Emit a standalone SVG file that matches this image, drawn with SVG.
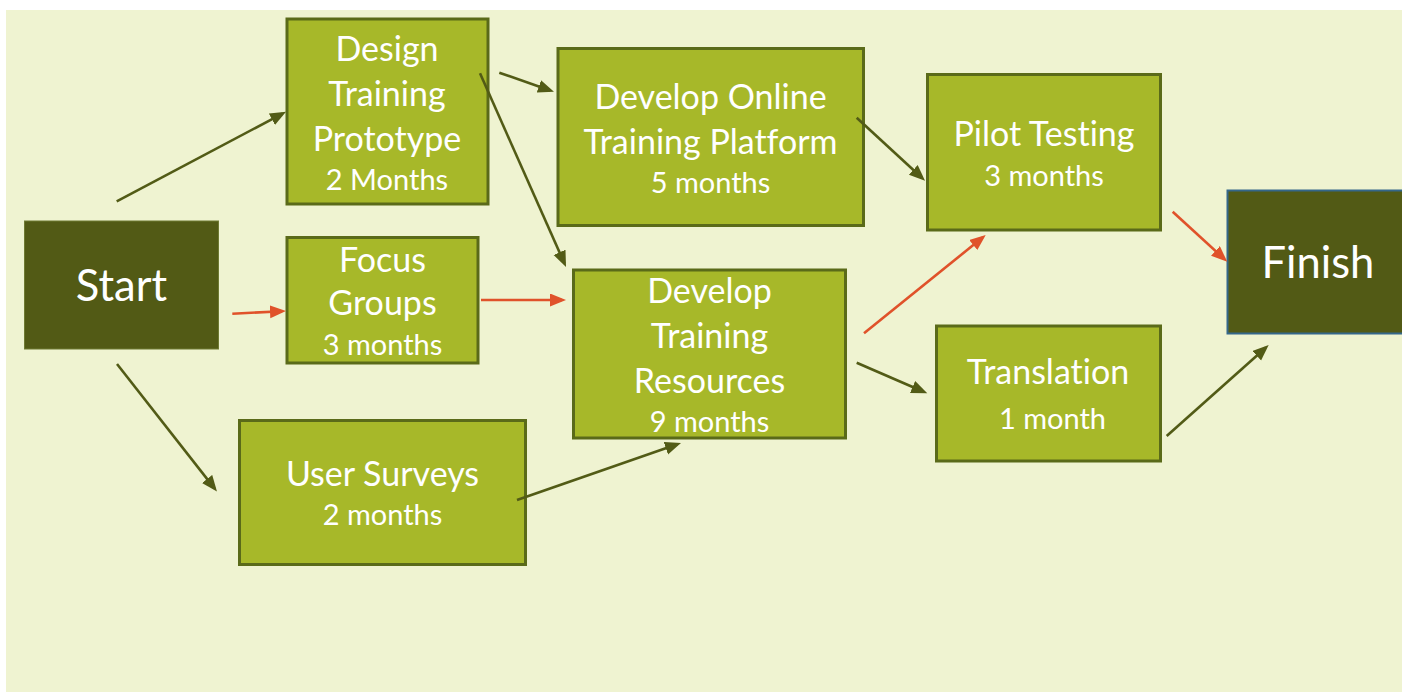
<svg xmlns="http://www.w3.org/2000/svg" width="1402" height="692" viewBox="0 0 1402 692">
<defs>
<style>
.bg{fill:#EFF3D1}
.node{fill:#A7B829;stroke:#5A6A19;stroke-width:3}
.dark{fill:#525A15}
.t{font-family:Lato,"Open Sans","Liberation Sans",sans-serif;fill:#FFFFFF;text-anchor:middle;font-variant-ligatures:none;font-feature-settings:"liga" 0,"clig" 0}
.m{font-size:34px}
.s{font-size:29px}
.b{font-size:43.5px}
.c{fill:none;stroke-width:2.6}
.g{stroke:#525B16}
.r{stroke:#E0522A}
</style>
<marker id="ag" markerUnits="userSpaceOnUse" markerWidth="18" markerHeight="15" refX="12" refY="6.5" orient="auto">
<path d="M0,0 L16,6.5 L0,13 z" fill="#525B16"/>
</marker>
<marker id="ar" markerUnits="userSpaceOnUse" markerWidth="18" markerHeight="15" refX="12" refY="6.5" orient="auto">
<path d="M0,0 L16,6.5 L0,13 z" fill="#E0522A"/>
</marker>
</defs>
<rect x="0" y="0" width="1402" height="692" fill="#FFFFFF"/>
<rect class="bg" x="6" y="10" width="1396" height="682"/>

<g id="start">
<rect class="dark" x="24.5" y="221" width="194" height="128" stroke="#6E7A33" stroke-width="1"/>
<text class="t b" x="121.5" y="301">Start</text>
</g>
<g id="design">
<rect class="node" x="287" y="19" width="201" height="185"/>
<text class="t m" x="387" y="60.5">Design</text>
<text class="t m" x="387" y="106">Training</text>
<text class="t m" x="387" y="150.5">Prototype</text>
<text class="t s" x="387" y="190">2 Months</text>
</g>
<g id="focus">
<rect class="node" x="287" y="237.5" width="191" height="125.5"/>
<text class="t m" x="382.5" y="271.5">Focus</text>
<text class="t m" x="382.5" y="315">Groups</text>
<text class="t s" x="382.5" y="355">3 months</text>
</g>
<g id="surveys">
<rect class="node" x="239.5" y="420.5" width="286" height="144"/>
<text class="t m" x="382.5" y="485.5">User Surveys</text>
<text class="t s" x="382.5" y="525">2 months</text>
</g>
<g id="online">
<rect class="node" x="558" y="48.5" width="305.5" height="177"/>
<text class="t m" x="710.5" y="108.5">Develop Online</text>
<text class="t m" x="710.5" y="153.5">Training Platform</text>
<text class="t s" x="710.5" y="192.5">5 months</text>
</g>
<g id="resources">
<rect class="node" x="573.5" y="270" width="272" height="168"/>
<text class="t m" x="709.5" y="302.5">Develop</text>
<text class="t m" x="709.5" y="347.5">Training</text>
<text class="t m" x="709.5" y="392.5">Resources</text>
<text class="t s" x="709.5" y="431.5">9 months</text>
</g>
<g id="pilot">
<rect class="node" x="927.5" y="74.5" width="233" height="155.5"/>
<text class="t m" x="1044" y="146">Pilot Testing</text>
<text class="t s" x="1044" y="186">3 months</text>
</g>
<g id="translation">
<rect class="node" x="936.5" y="326" width="224" height="135"/>
<text class="t m" x="1048" y="383.5">Translation</text>
<text class="t s" x="1052.5" y="428.5">1 month</text>
</g>
<g id="finish">
<rect class="dark" x="1227.5" y="190.5" width="180" height="143" stroke="#34678A" stroke-width="2"/>
<text class="t b" x="1318" y="277.5">Finish</text>
</g>

<g id="connectors">
<line class="c g" x1="116.7" y1="201.3" x2="282.5" y2="113.6" marker-end="url(#ag)"/>
<line class="c r" x1="232.3" y1="313.7" x2="282" y2="311.2" marker-end="url(#ar)"/>
<line class="c g" x1="117" y1="364" x2="214.5" y2="488.4" marker-end="url(#ag)"/>
<line class="c g" x1="499.3" y1="72.7" x2="550.2" y2="90.4" marker-end="url(#ag)"/>
<line class="c g" x1="480" y1="73.3" x2="564.4" y2="263.3" marker-end="url(#ag)"/>
<line class="c r" x1="481" y1="300" x2="562" y2="300" marker-end="url(#ar)"/>
<line class="c g" x1="517" y1="500" x2="677.2" y2="444.3" marker-end="url(#ag)"/>
<line class="c g" x1="856.7" y1="117.7" x2="922.1" y2="178" marker-end="url(#ag)"/>
<line class="c r" x1="864" y1="333.3" x2="982.6" y2="237.5" marker-end="url(#ar)"/>
<line class="c g" x1="856.7" y1="362.7" x2="923.6" y2="391.7" marker-end="url(#ag)"/>
<line class="c r" x1="1172.7" y1="211.7" x2="1224.3" y2="259" marker-end="url(#ar)"/>
<line class="c g" x1="1166.7" y1="436" x2="1265.7" y2="347.7" marker-end="url(#ag)"/>
</g>
</svg>
